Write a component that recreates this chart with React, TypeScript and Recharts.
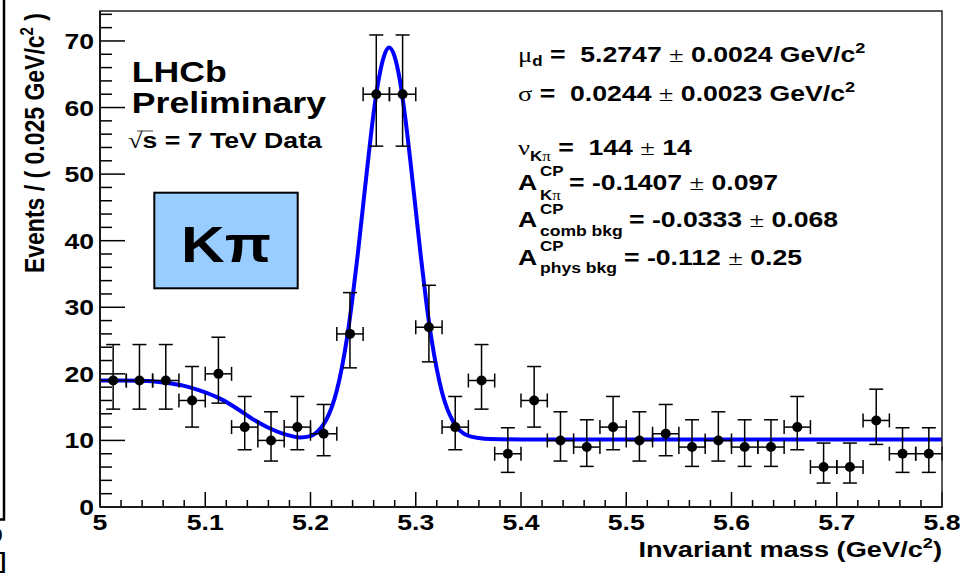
import React from 'react';
import { ComposedChart, Line, Scatter, ErrorBar, XAxis, YAxis } from 'recharts';

// Binned B -> K pi invariant-mass spectrum (bin width 0.025 GeV/c^2)
const binCenters = [
  5.0125, 5.0375, 5.0625, 5.0875, 5.1125, 5.1375, 5.1625, 5.1875,
  5.2125, 5.2375, 5.2625, 5.2875, 5.3125, 5.3375, 5.3625, 5.3875,
  5.4125, 5.4375, 5.4625, 5.4875, 5.5125, 5.5375, 5.5625, 5.5875,
  5.6125, 5.6375, 5.6625, 5.6875, 5.7125, 5.7375, 5.7625, 5.7875,
];
const eventCounts = [
  19, 19, 19, 16, 20, 12, 10, 12,
  11, 26, 62, 62, 27, 12, 19, 8,
  16, 10, 9, 12, 10, 11, 9, 10,
  9, 9, 12, 6, 6, 13, 8, 8,
];
// Poisson interval edges per bin
const countLow = [
  14.7, 14.7, 14.7, 12.0, 15.6, 8.6, 6.9, 8.6,
  7.7, 20.9, 54.2, 54.2, 21.8, 8.6, 14.7, 5.2,
  12.0, 6.9, 6.1, 8.6, 6.9, 7.7, 6.1, 6.9,
  6.1, 6.1, 8.6, 3.6, 3.6, 9.4, 5.2, 5.2,
];
const countHigh = [
  24.4, 24.4, 24.4, 21.1, 25.5, 16.6, 14.3, 16.6,
  15.4, 32.2, 70.9, 70.9, 33.3, 16.6, 24.4, 11.9,
  21.1, 14.3, 13.1, 16.6, 14.3, 15.4, 13.1, 14.3,
  13.1, 13.1, 16.6, 9.6, 9.6, 17.7, 11.9, 11.9,
];
const binHalfWidth = 0.0125;

// Total fit curve (signal Gaussian + combinatorial + physics background)
const fitMass = [
  5.0, 5.02, 5.04, 5.06, 5.08, 5.1, 5.115, 5.13, 5.145, 5.16, 5.175, 5.19,
  5.2, 5.205, 5.21, 5.215, 5.22, 5.225, 5.23, 5.235, 5.24, 5.245, 5.25,
  5.255, 5.26, 5.265, 5.27, 5.2747, 5.28, 5.285, 5.29, 5.295, 5.3, 5.305,
  5.31, 5.315, 5.32, 5.325, 5.33, 5.335, 5.34, 5.345, 5.35, 5.36, 5.37,
  5.4, 5.5, 5.6, 5.7, 5.8,
];
const fitEvents = [
  19.0, 19.0, 18.95, 18.7, 18.2, 17.2, 16.2, 14.8, 13.2, 11.9, 10.95, 10.45,
  10.65, 11.1, 11.9, 13.1, 14.9, 17.5, 21.1, 25.7, 31.5, 38.1, 45.3,
  52.5, 59.2, 64.4, 67.8, 69.0, 67.6, 64.0, 58.5, 51.8, 44.6, 37.4,
  30.8, 25.2, 20.7, 17.2, 14.7, 13.0, 11.8, 11.1, 10.7, 10.35, 10.2,
  10.15, 10.15, 10.15, 10.15, 10.15,
];

const xMajorTicks = [5, 5.1, 5.2, 5.3, 5.4, 5.5, 5.6, 5.7, 5.8];
const yMajorTicks = [0, 10, 20, 30, 40, 50, 60, 70];
const xDomain: [number, number] = [5, 5.8];
const yDomain: [number, number] = [0, 74.5];

// minor ticks: 5 subdivisions per major interval
const xTicks: number[] = [];
for (let i = 0; i < xMajorTicks.length - 1; i++) {
  const a = xMajorTicks[i];
  const b = xMajorTicks[i + 1];
  for (let k = 0; k < 5; k++) xTicks.push(+(a + ((b - a) * k) / 5).toFixed(3));
}
xTicks.push(xMajorTicks[xMajorTicks.length - 1]);
const yTicks: number[] = [];
for (let i = 0; i < yMajorTicks.length - 1; i++) {
  for (let k = 0; k < 5; k++) yTicks.push(yMajorTicks[i] + k * 2);
}
yTicks.push(70, 72, 74);

const points = binCenters.map((m, i) => ({
  mass: m,
  events: eventCounts[i],
  yErr: [eventCounts[i] - countLow[i], countHigh[i] - eventCounts[i]],
  xErr: binHalfWidth,
}));
const fitCurve = fitMass.map((m, i) => ({ mass: m, events: fitEvents[i] }));

const W = 961;
const H = 577;
const PLOT_LEFT = 100;
const PLOT_TOP = 11;
const PLOT_RIGHT = 942;
const PLOT_BOTTOM = 507;

const S = 1.21; // horizontal glyph stretch
const sx = (x: number) => x / S;
const SANS = '"Liberation Sans", Arial, Helvetica, sans-serif';
const SERIF = '"Liberation Serif", "DejaVu Serif", serif';

const isMajor = (v: number, majors: number[]) => majors.some((t) => Math.abs(t - v) < 1e-6);

const YTick = (props: any) => {
  const { x, y, payload } = props;
  const v = payload.value as number;
  const major = isMajor(v, yMajorTicks);
  return (
    <g>
      <line x1={x} x2={x + (major ? 25 : 12)} y1={y} y2={y} stroke="#000" strokeWidth={1.5} />
      {major && (
        <text
          transform={`translate(${x - 6},${y + 8}) scale(${S},1)`}
          textAnchor="end"
          fontSize={22}
          fontWeight="bold"
          fontFamily={SANS}
          fill="#000"
        >
          {String(v)}
        </text>
      )}
    </g>
  );
};

const XTick = (props: any) => {
  const { x, y, payload } = props;
  const v = payload.value as number;
  const major = isMajor(v, xMajorTicks);
  return (
    <g>
      <line x1={x} x2={x} y1={y} y2={y - (major ? 15 : 7)} stroke="#000" strokeWidth={1.5} />
      {major && (
        <text
          transform={`translate(${x},${y + 23}) scale(${S},1)`}
          textAnchor="middle"
          fontSize={22}
          fontWeight="bold"
          fontFamily={SANS}
          fill="#000"
        >
          {String(v)}
        </text>
      )}
    </g>
  );
};

const Dot = (props: any) => <circle cx={props.cx} cy={props.cy} r={5} fill="#000" />;

const pre = { whiteSpace: 'pre' as const };

const Annotations = () => (
  <svg width={W} height={H} style={{ position: 'absolute', left: 0, top: 0, pointerEvents: 'none' }}>
    {/* frame */}
    <rect
      x={PLOT_LEFT}
      y={PLOT_TOP}
      width={PLOT_RIGHT - PLOT_LEFT}
      height={PLOT_BOTTOM - PLOT_TOP}
      fill="none"
      stroke="#222"
      strokeWidth={1.5}
    />
    {/* edge of the neighbouring pad */}
    <path d="M0,519.5 H4 V0" fill="none" stroke="#000" strokeWidth={2.5} />
    <text x={2.5} y={541} textAnchor="end" fontSize={16} fontWeight="bold" fontFamily={SANS}>0</text>
    <text x={6} y={568} textAnchor="end" fontSize={22} fontWeight="bold" fontFamily={SANS}>]</text>

    {/* label box */}
    <rect x={154.3} y={192.7} width={143.4} height={95.6} fill="#99ccff" stroke="#000" strokeWidth={2} />

    <g transform={`scale(${S},1)`} fontFamily={SANS} fontWeight="bold" fill="#000">
      <text x={sx(131.7)} y={82} fontSize={29.5}>LHCb</text>
      <text x={sx(131.7)} y={113.5} fontSize={29.5}>Preliminary</text>
      <text x={sx(128)} y={148.5} fontSize={22} style={pre}>
        <tspan fontFamily={SERIF} fontWeight="normal">√</tspan>
        <tspan>{'s = 7 TeV Data'}</tspan>
      </text>

      <text x={sx(226)} y={261.7} fontSize={50} textAnchor="middle">Kπ</text>

      {/* fit results */}
      <text x={sx(518)} y={62} fontSize={22} style={pre}>
        <tspan fontFamily={SERIF} fontWeight="normal">μ</tspan>
        <tspan fontSize={14} dy={4}>d</tspan>
        <tspan dy={-4}>{' =  5.2747 '}</tspan>
        <tspan fontFamily={SERIF} fontWeight="normal">±</tspan>
        <tspan>{' 0.0024 GeV/c'}</tspan>
        <tspan fontSize={15} dy={-9}>2</tspan>
      </text>
      <text x={sx(518)} y={101} fontSize={22} style={pre}>
        <tspan fontFamily={SERIF} fontWeight="normal">σ</tspan>
        <tspan>{' =  0.0244 '}</tspan>
        <tspan fontFamily={SERIF} fontWeight="normal">±</tspan>
        <tspan>{' 0.0023 GeV/c'}</tspan>
        <tspan fontSize={15} dy={-9}>2</tspan>
      </text>
      <text x={sx(518)} y={155} fontSize={22} style={pre}>
        <tspan fontFamily={SERIF} fontWeight="normal">ν</tspan>
        <tspan fontSize={14} dy={6}>K</tspan>
        <tspan fontSize={14} fontFamily={SERIF} fontWeight="normal">π</tspan>
        <tspan dy={-6}>{' =  144 '}</tspan>
        <tspan fontFamily={SERIF} fontWeight="normal">±</tspan>
        <tspan>{' 14'}</tspan>
      </text>

      <text x={sx(518)} y={190} fontSize={22}>A</text>
      <text x={sx(540)} y={176} fontSize={14}>CP</text>
      <text x={sx(540)} y={200} fontSize={14}>
        K<tspan fontFamily={SERIF} fontWeight="normal">π</tspan>
      </text>
      <text x={sx(569)} y={190} fontSize={22} style={pre}>
        <tspan>{'= -0.1407 '}</tspan>
        <tspan fontFamily={SERIF} fontWeight="normal">±</tspan>
        <tspan>{' 0.097'}</tspan>
      </text>

      <text x={sx(518)} y={227} fontSize={22}>A</text>
      <text x={sx(540)} y={214} fontSize={14}>CP</text>
      <text x={sx(540)} y={236} fontSize={14.5} style={pre}>comb bkg</text>
      <text x={sx(629)} y={227} fontSize={22} style={pre}>
        <tspan>{'= -0.0333 '}</tspan>
        <tspan fontFamily={SERIF} fontWeight="normal">±</tspan>
        <tspan>{' 0.068'}</tspan>
      </text>

      <text x={sx(518)} y={265} fontSize={22}>A</text>
      <text x={sx(540)} y={251} fontSize={14}>CP</text>
      <text x={sx(540)} y={273} fontSize={14.5} style={pre}>phys bkg</text>
      <text x={sx(624)} y={265} fontSize={22} style={pre}>
        <tspan>{'= -0.112 '}</tspan>
        <tspan fontFamily={SERIF} fontWeight="normal">±</tspan>
        <tspan>{' 0.25'}</tspan>
      </text>

      {/* x axis title */}
      <text x={sx(942)} y={557} fontSize={22.5} textAnchor="end" style={pre}>
        <tspan>{'Invariant mass (GeV/c'}</tspan>
        <tspan fontSize={15} dy={-9}>2</tspan>
        <tspan dy={9}>)</tspan>
      </text>
    </g>
    {/* overline of the square root */}
    <line x1={137} x2={153} y1={131} y2={131} stroke="#444" strokeWidth={1} />

    {/* y axis title */}
    <text
      transform={`translate(43.5,13) scale(${S},1) rotate(-90)`}
      textAnchor="end"
      fontSize={23}
      fontWeight="bold"
      fontFamily={SANS}
      fill="#000"
      style={pre}
    >
      <tspan>{'Events / ( 0.025 GeV/c'}</tspan>
      <tspan fontSize={15} dy={-9}>2</tspan>
      <tspan dy={9}>{' )'}</tspan>
    </text>
  </svg>
);

export default function App() {
  return (
    <div style={{ position: 'absolute', left: 0, top: 0, width: W, height: H, background: '#fff' }}>
      <ComposedChart
        width={W}
        height={H}
        margin={{ top: PLOT_TOP, right: W - PLOT_RIGHT, bottom: 0, left: 0 }}
      >
        <XAxis
          type="number"
          dataKey="mass"
          domain={xDomain}
          allowDataOverflow
          ticks={xTicks}
          interval={0}
          tick={<XTick />}
          tickLine={false}
          tickSize={0}
          tickMargin={0}
          height={H - PLOT_BOTTOM}
          axisLine={{ stroke: '#000', strokeWidth: 2 }}
        />
        <YAxis
          type="number"
          domain={yDomain}
          allowDataOverflow
          ticks={yTicks}
          interval={0}
          tick={<YTick />}
          tickLine={false}
          tickSize={0}
          tickMargin={0}
          width={PLOT_LEFT}
          axisLine={{ stroke: '#000', strokeWidth: 2 }}
        />
        <Line
          data={fitCurve}
          dataKey="events"
          type="monotone"
          stroke="#0000ff"
          strokeWidth={4}
          dot={false}
          activeDot={false}
          isAnimationActive={false}
        />
        <Scatter data={points} dataKey="events" shape={<Dot />} isAnimationActive={false}>
          <ErrorBar dataKey="yErr" direction="y" width={7} stroke="#000" strokeWidth={1.5} isAnimationActive={false} />
          <ErrorBar dataKey="xErr" direction="x" width={7} stroke="#000" strokeWidth={1.5} isAnimationActive={false} />
        </Scatter>
      </ComposedChart>
      <Annotations />
    </div>
  );
}
